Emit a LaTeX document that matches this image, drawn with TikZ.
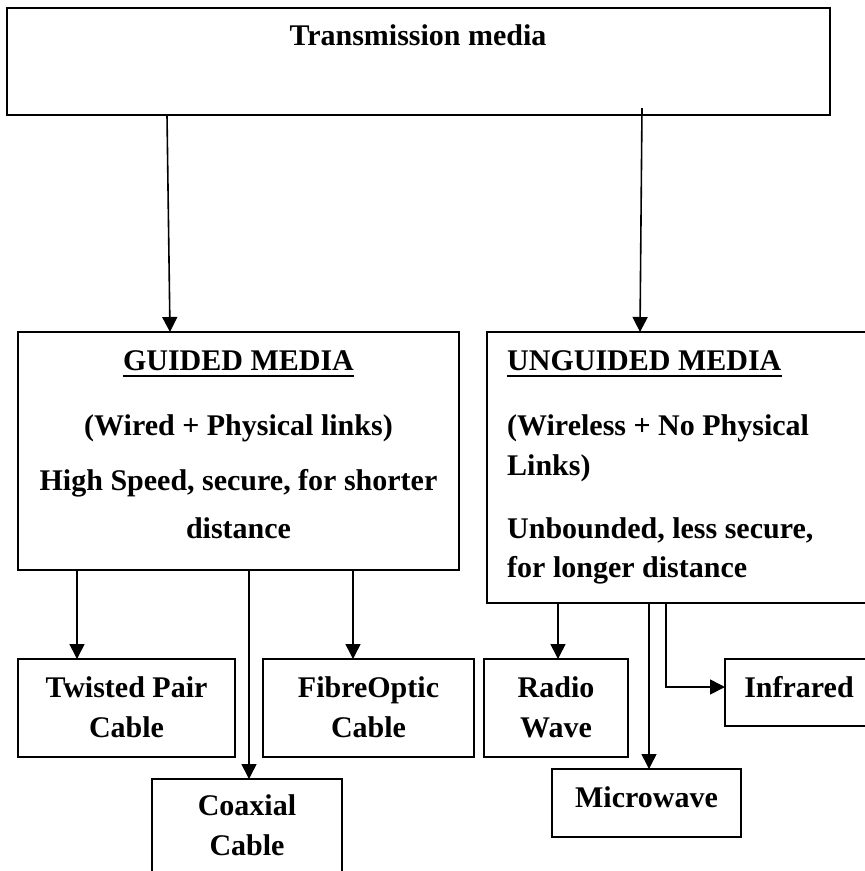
\documentclass[tikz,border=0pt]{standalone}
\usepackage{fontspec}
\setmainfont{Liberation Serif}
\usetikzlibrary{arrows.meta}
\begin{document}
\begin{tikzpicture}[x=1pt,y=-1pt,
  box/.style={draw, line width=1.6pt, inner sep=0pt, outer sep=0pt},
  txt/.style={font=\fontsize{30}{34}\selectfont\bfseries, inner sep=0pt, anchor=base},
  ltxt/.style={txt, anchor=base west},
  arr/.style={line width=1.6pt, -{Triangle[length=15pt,width=15pt]}},
  uline/.style={line width=2pt}]
\useasboundingbox (0,0) rectangle (865,871);
\clip (0,0) rectangle (865,871);
% boxes
\node[box, minimum width=823pt, minimum height=107pt] (top) at (418.5,61.5) {};
\node[box, minimum width=441pt, minimum height=238pt] (guided) at (238.5,451) {};
\node[box, minimum width=398pt, minimum height=271pt] (unguided) at (686,467.5) {};
\node[box, minimum width=217pt, minimum height=98pt] (twisted) at (126.5,708) {};
\node[box, minimum width=211pt, minimum height=98pt] (fibre) at (368.5,708) {};
\node[box, minimum width=190pt, minimum height=111pt] (coax) at (247,834.5) {};
\node[box, minimum width=144pt, minimum height=98pt] (radio) at (556,708) {};
\node[box, minimum width=189pt, minimum height=68pt] (micro) at (646.5,803) {};
\node[box, minimum width=160pt, minimum height=67pt] (infra) at (805,692.5) {};
% texts
\node[txt] (ttop) at (418,45) {Transmission media};
\node[txt] (g1) at (238.5,370) {GUIDED MEDIA};
\draw[uline] ([yshift=-5pt]g1.south west) -- ([yshift=-5pt]g1.south east);
\node[txt] (g2) at (238.5,435) {(Wired + Physical links)};
\node[txt] (g3) at (238.5,490) {High Speed, secure, for shorter};
\node[txt] (g4) at (238.5,538) {distance};
\node[ltxt] (u1) at (507,370) {UNGUIDED MEDIA};
\draw[uline] ([yshift=-5pt]u1.south west) -- ([yshift=-5pt]u1.south east);
\node[ltxt] (u2) at (507,435) {(Wireless + No Physical};
\node[ltxt] (u3) at (507,475) {Links)};
\node[ltxt] (u4) at (507,538) {Unbounded, less secure,};
\node[ltxt] (u5) at (507,577) {for longer distance};
\node[txt] (tw1) at (126.5,697) {Twisted Pair};
\node[txt] (tw2) at (126.5,737) {Cable};
\node[txt] (fo1) at (368.5,697) {FibreOptic};
\node[txt] (fo2) at (368.5,737) {Cable};
\node[txt] (cx1) at (247,815) {Coaxial};
\node[txt] (cx2) at (247,855) {Cable};
\node[txt] (rw1) at (556,697) {Radio};
\node[txt] (rw2) at (556,737) {Wave};
\node[txt] (mw1) at (646.5,807) {Microwave};
\node[txt] (ir1) at (799,697) {Infrared};
% connectors
\draw[arr] ([xshift=160pt]top.south west) -- ([xshift=152pt]guided.north west);
\draw[arr] ([xshift=635pt,yshift=7pt]top.south west) -- ([xshift=153pt]unguided.north west);
\coordinate (ga) at ([xshift=59pt]guided.south west);
\coordinate (gb) at ([xshift=231pt]guided.south west);
\coordinate (gc) at ([xshift=335pt]guided.south west);
\draw[arr] (ga) -- (ga |- twisted.north);
\draw[arr] (gb) -- (gb |- coax.north);
\draw[arr] (gc) -- (gc |- fibre.north);
\coordinate (ua) at ([xshift=71pt]unguided.south west);
\coordinate (ub) at ([xshift=162pt]unguided.south west);
\coordinate (uc) at ([xshift=179pt]unguided.south west);
\draw[arr] (ua) -- (ua |- radio.north);
\draw[arr] (ub) -- (ub |- micro.north);
\draw[arr] (uc) |- ([yshift=5.5pt]infra.west);
\end{tikzpicture}
\end{document}
